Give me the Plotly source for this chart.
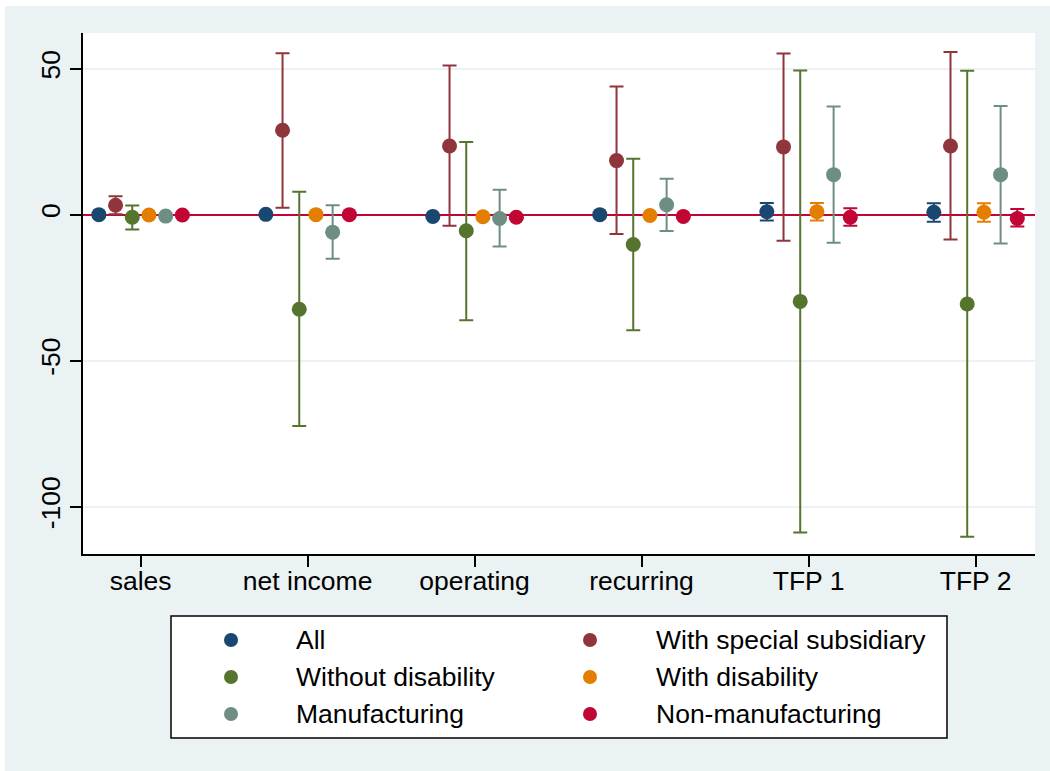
import plotly.graph_objects as go

# Outcome categories on the x axis
categories = ["sales", "net income", "operating", "recurring", "TFP 1", "TFP 2"]

# Point estimates and 95% confidence bounds for each subgroup
all_est = [0.0, 0.1, -0.6, 0.0, 1.0, 0.8]
all_lo = [-0.5, -0.4, -1.1, -0.5, -2.0, -2.4]
all_hi = [0.5, 0.6, -0.1, 0.5, 4.0, 3.9]

special_est = [3.2, 28.9, 23.5, 18.5, 23.2, 23.5]
special_lo = [0.1, 2.4, -3.8, -6.6, -8.9, -8.5]
special_hi = [6.3, 55.3, 51.1, 43.9, 55.2, 55.7]

without_est = [-0.9, -32.4, -5.5, -10.2, -29.7, -30.6]
without_lo = [-5.1, -72.4, -36.2, -39.6, -108.8, -110.3]
without_hi = [3.1, 7.8, 24.9, 19.1, 49.4, 49.3]

withdis_est = [-0.1, 0.0, -0.7, -0.3, 1.0, 0.8]
withdis_lo = [-0.6, -0.5, -1.2, -0.8, -2.0, -2.4]
withdis_hi = [0.4, 0.5, -0.2, 0.2, 4.0, 3.9]

manuf_est = [-0.5, -6.0, -1.3, 3.4, 13.7, 13.7]
manuf_lo = [-1.0, -15.1, -10.9, -5.6, -9.6, -9.9]
manuf_hi = [0.0, 3.2, 8.5, 12.3, 37.0, 37.2]

nonmanuf_est = [-0.1, 0.0, -0.9, -0.6, -0.9, -1.3]
nonmanuf_lo = [-0.6, -0.5, -1.4, -1.1, -3.8, -4.1]
nonmanuf_hi = [0.4, 0.5, -0.4, -0.1, 2.2, 1.9]

y_ticks = [-100, -50, 0, 50]
y_tick_labels = ["-100", "-50", "0", "50"]

series = [
    ("All", all_est, all_lo, all_hi, "#1A476F"),
    ("With special subsidiary", special_est, special_lo, special_hi, "#90353B"),
    ("Without disability", without_est, without_lo, without_hi, "#55752F"),
    ("With disability", withdis_est, withdis_lo, withdis_hi, "#E37E00"),
    ("Manufacturing", manuf_est, manuf_lo, manuf_hi, "#6E8E84"),
    ("Non-manufacturing", nonmanuf_est, nonmanuf_lo, nonmanuf_hi, "#C10534"),
]

# horizontal dodge of each subgroup within a category
dodge = [-0.25, -0.15, -0.05, 0.05, 0.15, 0.25]

W, H = 1050, 771
ML, MR, MT, MB = 83, 15, 33, 217
BG = "#EAF2F3"
FONT = "Liberation Sans, Arial, sans-serif"
FS = 26.5

fig = go.Figure()
for (name, est, lo, hi, color), dx in zip(series, dodge):
    xs = [i + 1 + dx for i in range(len(categories))]
    fig.add_trace(go.Scatter(
        x=xs, y=est, mode="markers", name=name, showlegend=False,
        marker=dict(color=color, size=15, line=dict(width=0)),
        error_y=dict(
            type="data", symmetric=False,
            array=[h - e for h, e in zip(hi, est)],
            arrayminus=[e - l for e, l in zip(est, lo)],
            color=color, thickness=2, width=7,
        ),
    ))

pw = W - ML - MR
ph = H - MT - MB


def px_x(p):
    return (p - ML) / pw


def px_y(p):
    return (H - MB - p) / ph


shapes = [
    # light outer frame behind everything
    dict(type="rect", xref="paper", yref="paper", layer="below",
         x0=px_x(5), x1=px_x(W), y0=px_y(H), y1=px_y(6),
         fillcolor=BG, line=dict(width=0)),
    # white plot region
    dict(type="rect", xref="x domain", yref="y domain", layer="below",
         x0=0, x1=1, y0=0, y1=1, fillcolor="white", line=dict(width=0)),
    # legend box
    dict(type="rect", xref="paper", yref="paper", layer="above",
         x0=px_x(171), x1=px_x(947), y0=px_y(738), y1=px_y(616),
         fillcolor="white", line=dict(color="black", width=1.5)),
]

# two-column key below the plot: marker column x, text column x, row y (px)
key_marker_x = [231, 590]
key_text_x = [294, 654]
key_row_y = [640, 677, 714]

annotations = []
for k, (name, _, _, _, color) in enumerate(series):
    col, row = k % 2, k // 2
    cx, cy = px_x(key_marker_x[col]), px_y(key_row_y[row])
    shapes.append(dict(
        type="circle", xref="paper", yref="paper", layer="above",
        xsizemode="pixel", ysizemode="pixel", xanchor=cx, yanchor=cy,
        x0=-7, x1=7, y0=-7, y1=7,
        fillcolor=color, line=dict(width=0),
    ))
    annotations.append(dict(
        xref="paper", yref="paper", x=px_x(key_text_x[col]), y=cy,
        xanchor="left", yanchor="middle", showarrow=False, text=name,
        font=dict(family=FONT, size=FS, color="black"),
    ))

fig.update_layout(
    width=W, height=H,
    margin=dict(l=ML, r=MR, t=MT, b=MB, pad=0, autoexpand=False),
    paper_bgcolor="white", plot_bgcolor="rgba(0,0,0,0)",
    font=dict(family=FONT, size=FS, color="black"),
    shapes=shapes, annotations=annotations,
    showlegend=False,
)

fig.update_xaxes(
    range=[0.655, 6.356], tickmode="array",
    tickvals=list(range(1, len(categories) + 1)), ticktext=categories,
    ticks="outside", ticklen=11, tickwidth=1.5, tickcolor="black",
    showline=True, linecolor="black", linewidth=1.5,
    showgrid=False, zeroline=False, ticklabelstandoff=-9,
    tickfont=dict(family=FONT, size=FS, color="black"),
)
fig.update_yaxes(
    range=[-116.2, 62.2], tickmode="array",
    tickvals=y_ticks, ticktext=y_tick_labels,
    ticks="outside", ticklen=11, tickwidth=1.5, tickcolor="black",
    showline=True, linecolor="black", linewidth=1.5,
    showgrid=True, gridcolor=BG, gridwidth=2,
    zeroline=True, zerolinecolor="#C10534", zerolinewidth=2,
    tickangle=-90,
    tickfont=dict(family=FONT, size=FS, color="black"),
)

fig.write_html("out.html")
